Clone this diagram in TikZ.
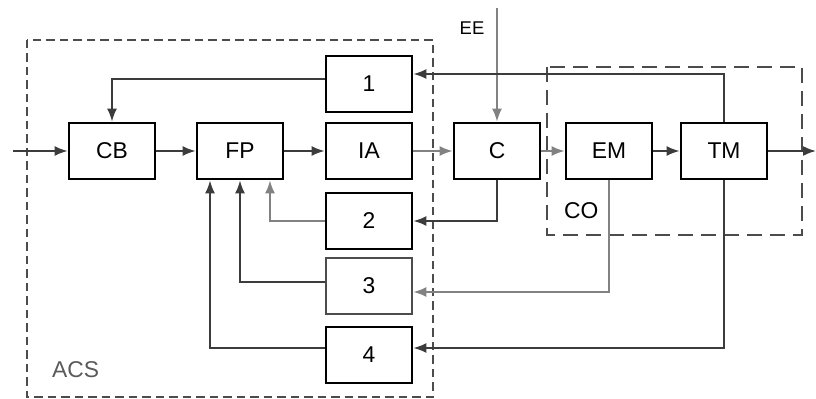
\documentclass[tikz,border=0pt]{standalone}
\usepackage{fontspec}
\setmainfont{Liberation Sans}
\usepackage{tikz}
\usetikzlibrary{arrows.meta,positioning,calc}
\definecolor{linedark}{RGB}{60,60,60}
\definecolor{linegray}{RGB}{130,130,130}
\definecolor{labelgray}{RGB}{90,90,90}
\tikzset{
    block/.style={rectangle, draw=black, line width=1.6pt, fill=white, minimum width=1.72cm, minimum height=1.12cm, font=\fontsize{13}{15}\selectfont},
    blockG/.style={block, draw=black!70},
    sig/.style={draw=linedark, line width=1pt, -{Latex[length=2.6mm,width=2mm]}},
    sigG/.style={draw=linegray, line width=1pt, -{Latex[length=2.6mm,width=2mm,color=linegray]}},
    frame/.style={draw=black!70, line width=1.1pt, dash pattern=on 0.17cm off 0.1cm},
    frameB/.style={draw=black!70, line width=1.1pt, dash pattern=on 0.3cm off 0.16cm},
    framelabel/.style={font=\fontsize{13}{15}\selectfont, anchor=west},
}

\begin{document}
\begin{tikzpicture}[x=0.02cm, y=-0.02cm]
    \useasboundingbox (0,0) rectangle (816,399);

    % system frames
    \draw[frame] (27,40) rectangle (433,397);
    \draw[frameB] (547,67) rectangle (802,235);
    \node[framelabel, text=labelgray] (acs) at (46,370) {ACS};
    \node[framelabel] (co) at (558,211) {CO};

    % main chain
    \node[block] (cb) at (112,151) {CB};
    \node[block] (fp) at (240,151) {FP};
    \node[block] (ia) at (369,151) {IA};
    \node[block] (c) at (497,151) {C};
    \node[block] (em) at (609,151) {EM};
    \node[block] (tm) at (724,151) {TM};

    % feedback blocks
    \node[block] (b1) at (369,84) {1};
    \node[block] (b2) at (369,221) {2};
    \node[blockG] (b3) at (369,286) {3};
    \node[block] (b4) at (369,355) {4};

    \coordinate (in) at (13,151);
    \coordinate (out) at (816,151);
    \coordinate (ee) at (497,8);
    \node[font=\fontsize{10.5}{12}\selectfont] (eelabel) at (472,28) {EE};

    \draw[sig] (in) -- (cb);
    \draw[sig] (cb) -- (fp);
    \draw[sig] (fp) -- (ia);
    \draw[sigG] (ia) -- (c);
    \draw[sigG] (c) -- (em);
    \draw[sig] (em) -- (tm);
    \draw[sig] (tm) -- (out);
    \draw[sigG] (ee) -- (c);

    % feedback loops
    \draw[sig] (tm.north) |- ([yshift=0.2cm]b1.east);
    \draw[sig] ([yshift=0.1cm]b1.west) -| (cb.north);
    \draw[sig] (c.south) |- (b2.east);
    \draw[sigG] (b2.west) -| ([xshift=0.6cm]fp.south);
    \draw[sigG] (em.south) |- ([yshift=-0.12cm]b3.east);
    \draw[sig] ([yshift=0.08cm]b3.west) -| (fp.south);
    \draw[sig] (tm.south) |- ([yshift=0.14cm]b4.east);
    \draw[sig] ([yshift=0.14cm]b4.west) -| ([xshift=-0.6cm]fp.south);
\end{tikzpicture}
\end{document}
